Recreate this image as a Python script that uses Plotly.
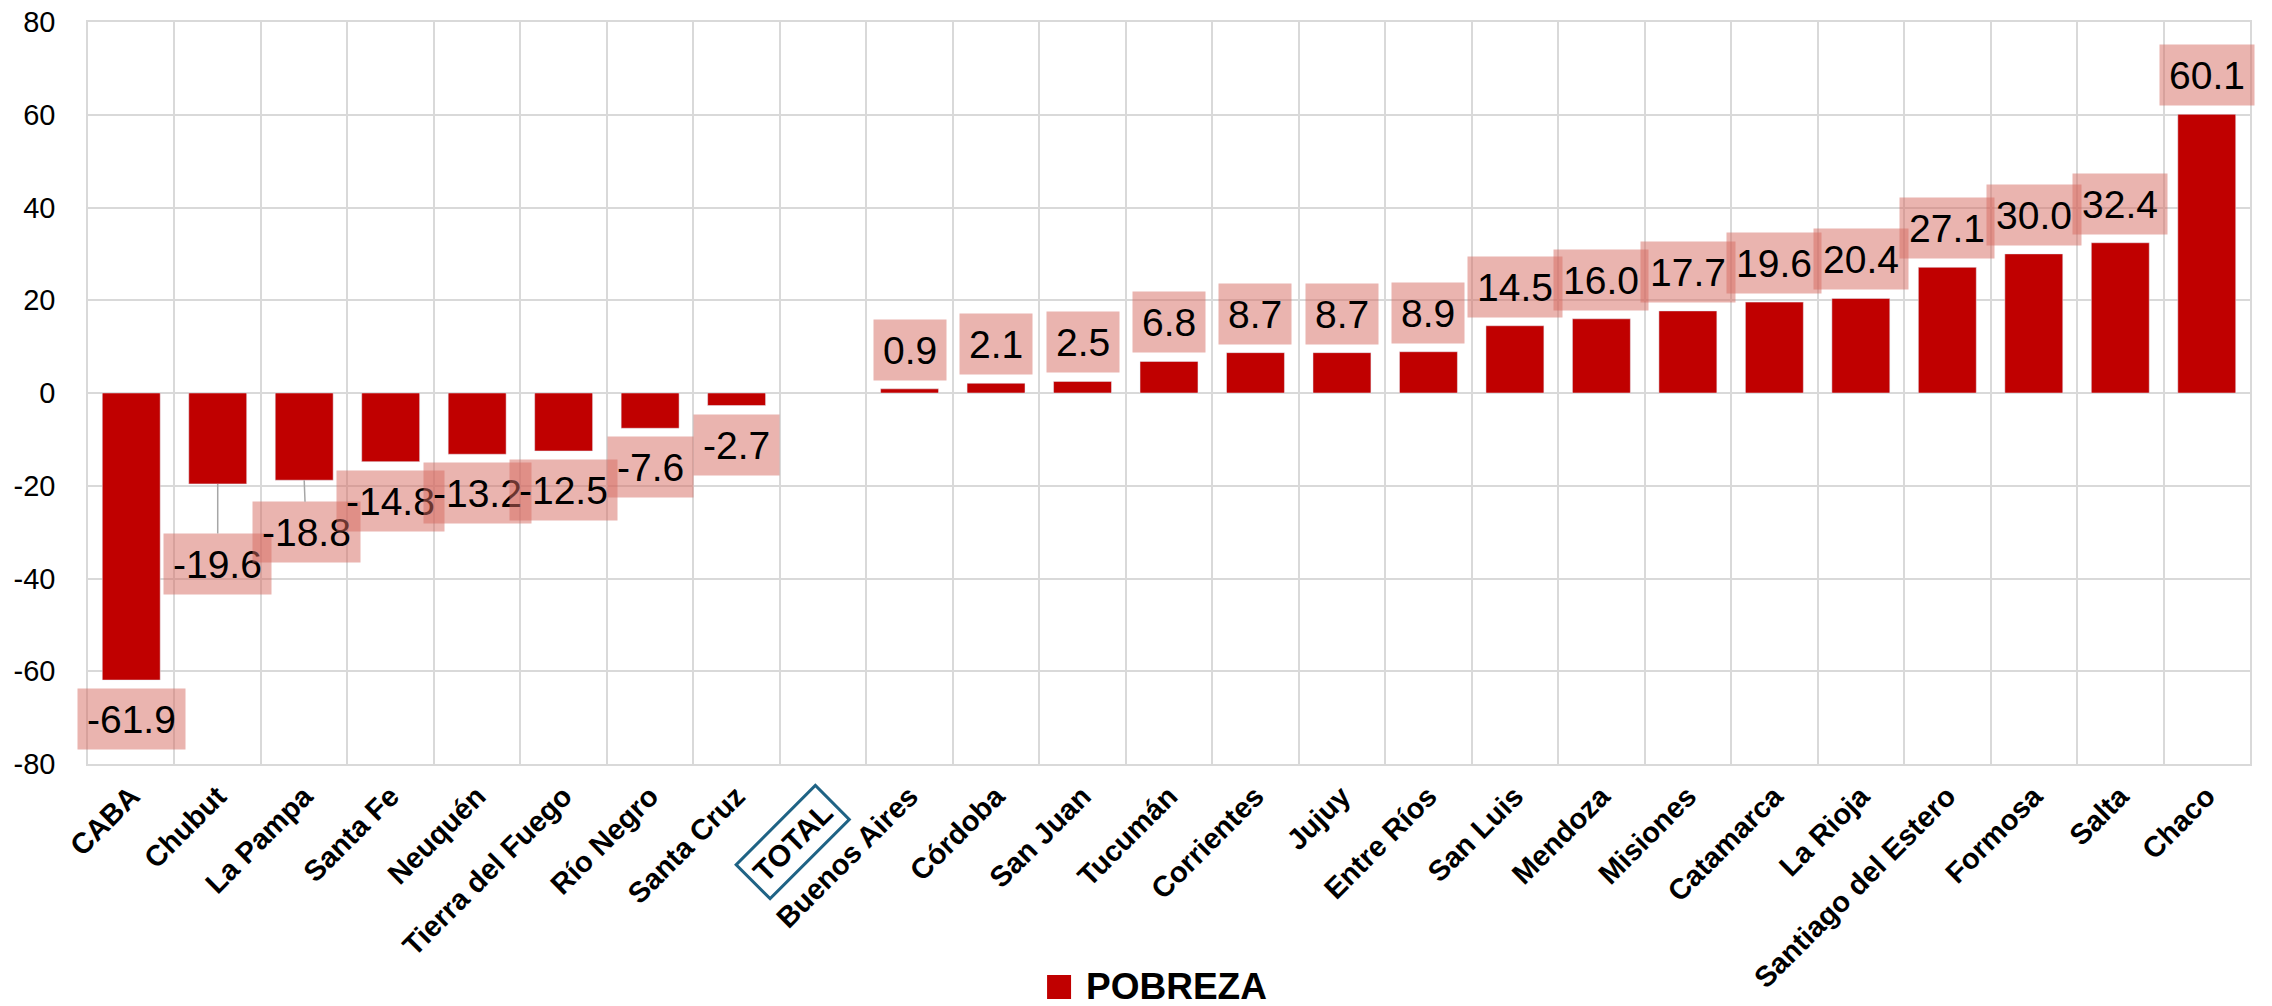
import plotly.graph_objects as go

provincias = ["CABA", "Chubut", "La Pampa", "Santa Fe", "Neuquén", "Tierra del Fuego",
              "Río Negro", "Santa Cruz", "TOTAL", "Buenos Aires", "Córdoba", "San Juan",
              "Tucumán", "Corrientes", "Jujuy", "Entre Ríos", "San Luis", "Mendoza",
              "Misiones", "Catamarca", "La Rioja", "Santiago del Estero", "Formosa",
              "Salta", "Chaco"]
pobreza = [-61.9, -19.6, -18.8, -14.8, -13.2, -12.5, -7.6, -2.7, None, 0.9, 2.1, 2.5,
           6.8, 8.7, 8.7, 8.9, 14.5, 16.0, 17.7, 19.6, 20.4, 27.1, 30.0, 32.4, 60.1]
serie = "POBREZA"
y_ticks = [-80, -60, -40, -20, 0, 20, 40, 60, 80]

BAR = "#C00000"
GRID = "#D9D9D9"
LABEL_BG = "rgba(214,105,95,0.5)"
FONT = "Liberation Sans, Arial, sans-serif"

# leader-line offsets for labels moved away from their bars (pixels)
moved = {"Chubut": (0, 80), "La Pampa": (2, 52)}

fig = go.Figure()
fig.add_trace(go.Bar(x=provincias, y=pobreza, name=serie, marker_color=BAR,
                     showlegend=False))

annotations = []
for cat, v in zip(provincias, pobreza):
    if v is None:
        continue
    common = dict(x=cat, y=v, xref="x", yref="y", text=f"{v:.1f}",
                  font=dict(family=FONT, size=39, color="#000000"),
                  bgcolor=LABEL_BG, borderpad=9, height=42)
    if cat in moved:
        ax, ay = moved[cat]
        annotations.append(dict(**common, showarrow=True, arrowhead=0, arrowwidth=1.5,
                                arrowcolor="#A6A6A6", ax=ax, ay=ay))
    elif v >= 0:
        annotations.append(dict(**common, showarrow=False, xanchor="center",
                                yanchor="bottom", yshift=8))
    else:
        annotations.append(dict(**common, showarrow=False, xanchor="center",
                                yanchor="top", yshift=-8))

# boxed TOTAL category label
annotations.append(dict(x="TOTAL", xref="x", y=0, yref="paper", text="<b>TOTAL</b>",
                        showarrow=False, textangle=-45, xanchor="center", yanchor="middle",
                        xshift=-31, yshift=-78, bordercolor="#1F6385", borderwidth=3,
                        borderpad=6, font=dict(family=FONT, size=30, color="#000000")))

# legend (manual, to match large swatch)
annotations.append(dict(x=0.4607, y=-0.3005, xref="paper", yref="paper",
                        text=f"<b>{serie}</b>", showarrow=False, xanchor="left",
                        yanchor="middle", font=dict(family=FONT, size=37, color="#000000")))
shapes = [dict(type="rect", xref="paper", yref="paper", x0=0.4436, x1=0.4547,
               y0=-0.3167, y1=-0.2844, fillcolor=BAR, line=dict(width=0))]

ticktext = ["" if p == "TOTAL" else p for p in provincias]

fig.update_layout(
    width=2272, height=1006,
    margin=dict(l=88, r=22, t=22, b=242, autoexpand=False),
    plot_bgcolor="white", paper_bgcolor="white",
    bargap=0.33,
    annotations=annotations,
    shapes=shapes,
    showlegend=False,
    xaxis=dict(type="category", range=[-0.5, len(provincias) - 0.5],
               tickmode="array", tickvals=provincias, ticktext=ticktext,
               tickangle=-45, tickson="boundaries", showgrid=True, gridcolor=GRID,
               gridwidth=1.5, ticks="", showline=True, mirror=True, linecolor=GRID,
               linewidth=1.5, ticklabelstandoff=2, automargin=False,
               tickfont=dict(family=FONT, size=29, color="#000000", weight="bold")),
    yaxis=dict(range=[-80, 80], tickmode="array", tickvals=y_ticks,
               ticktext=[str(t) for t in y_ticks], showgrid=True, gridcolor=GRID,
               gridwidth=1.5, zeroline=True, zerolinecolor=GRID, zerolinewidth=1.5,
               showline=True, mirror=True, linecolor=GRID, linewidth=1.5, ticks="",
               ticklabelstandoff=25, automargin=False,
               tickfont=dict(family=FONT, size=29, color="#000000")),
)

fig.write_html("out.html", config={"displayModeBar": False},
               post_script="document.body.style.margin='0';document.body.style.overflow='hidden';")
